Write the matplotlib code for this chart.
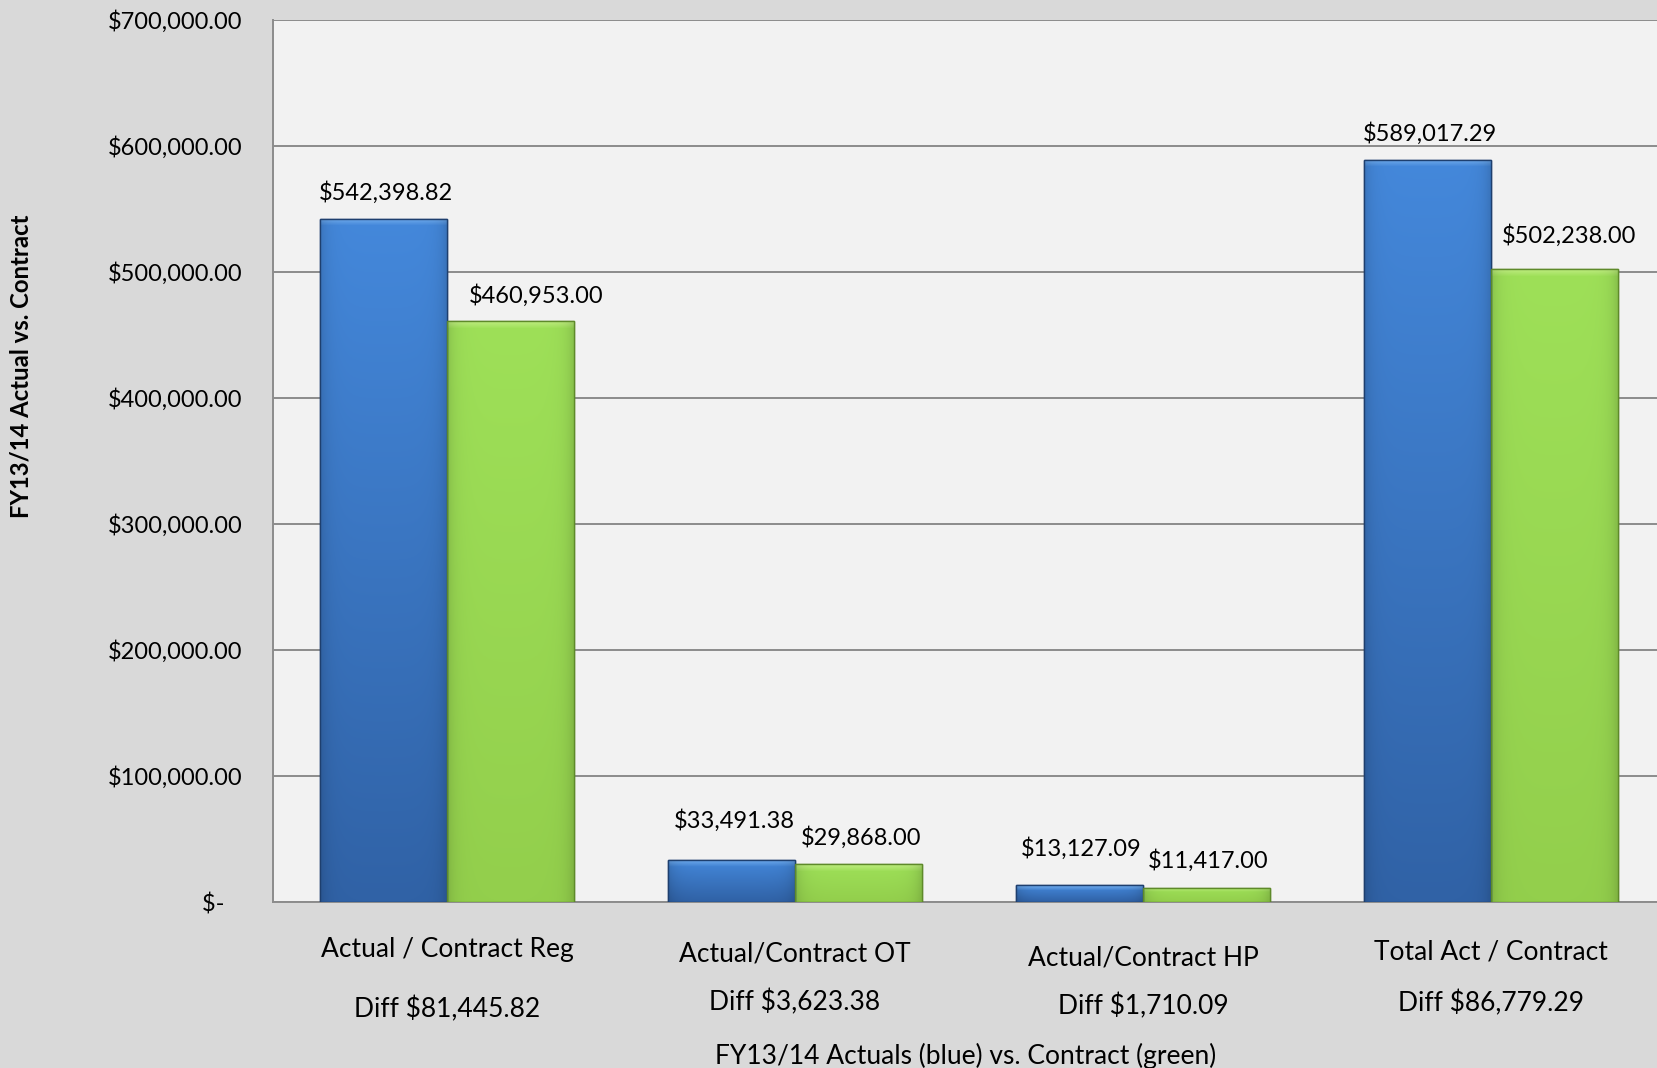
import numpy as np
import matplotlib
matplotlib.use("Agg")
import matplotlib.pyplot as plt
from matplotlib.colors import to_rgb

# ---------------- data ----------------
categories = ["Actual / Contract Reg", "Actual/Contract OT", "Actual/Contract HP", "Total Act / Contract"]
actuals = [542398.82, 33491.38, 13127.09, 589017.29]
contract = [460953.00, 29868.00, 11417.00, 502238.00]
y_ticks = [0, 100000, 200000, 300000, 400000, 500000, 600000, 700000]
y_label = "FY13/14 Actual vs. Contract"
x_label = "FY13/14 Actuals (blue) vs. Contract (green)"

# ---------------- layout (label placement, pixels) ----------------
blue_lbl_dx = [2, 3, 2, 2]
blue_lbl_dy = [26, 39, 37, 26]
green_lbl_dx = [26, 3, 2, 15]
green_lbl_dy = [26, 27, 27, 34]
cat_dy = [-47, -52, -56, -50]
diff_dy = [-107, -100, -104, -101]

# ---------------- style ----------------
plt.rcParams['font.family'] = ['Lato', 'DejaVu Sans']
FS_NUM = 17
FS_TXT = 19
W, H, DPI = 1657, 1068, 100
fig = plt.figure(figsize=(W / DPI, H / DPI), dpi=DPI, facecolor="#D9D9D9")
ax = fig.add_axes([273 / W, 166 / H, 1392 / W, 882 / H])
ax.set_facecolor("#F2F2F2")

x = np.arange(len(categories))
bw = 1 / 2.75
blue_bars = ax.bar(x - bw / 2, actuals, bw, color="#3C7BD0", edgecolor="#1E3F6E", linewidth=1.0, zorder=3)
green_bars = ax.bar(x + bw / 2, contract, bw, color="#9ADC52", edgecolor="#5E8A2A", linewidth=1.0, zorder=3)

ax.set_xlim(-0.5, len(categories) - 0.5)
ax.set_ylim(0, 700000)


def gradient_fill(bars, top, bottom, hilite):
    top, bottom, hilite = map(np.array, map(to_rgb, (top, bottom, hilite)))
    for p in bars:
        bx, by = p.get_x(), p.get_y()
        bwid, bh = p.get_width(), p.get_height()
        npx = max(int(round(bh / 700000 * 882)), 2)
        t = np.linspace(0, 1, npx)[:, None]
        col = top * (1 - t) + bottom * t
        nb = min(7, max(npx // 3, 1))
        for i in range(nb):
            a = 0.75 * (1 - i / nb)
            col[i] = hilite * a + col[i] * (1 - a)
        ncol = 40
        s = np.linspace(0, 1, ncol)
        side = 1 - 0.12 * (np.exp(-s / 0.06) + np.exp(-(1 - s) / 0.06))
        img = np.clip(col[:, None, :] * side[None, :, None], 0, 1)
        im = ax.imshow(img, extent=[bx, bx + bwid, by, by + bh], origin="upper",
                       aspect="auto", zorder=3.5, interpolation="bilinear")
        im.set_clip_path(p)
        ax.add_patch(plt.Rectangle((bx, by), bwid, bh, fill=False,
                                   edgecolor=p.get_edgecolor(), linewidth=1.0, zorder=4))


gradient_fill(blue_bars, "#4488DB", "#3062A6", "#80B8F2")
gradient_fill(green_bars, "#9EE058", "#93CF4C", "#C8F08C")
ax.set_xlim(-0.5, len(categories) - 0.5)
ax.set_ylim(0, 700000)


def money(v):
    return "${:,.2f}".format(v)


for xs, vals, dxs, dys in ((x - bw / 2, actuals, blue_lbl_dx, blue_lbl_dy),
                           (x + bw / 2, contract, green_lbl_dx, green_lbl_dy)):
    for xi, v, dx, dy in zip(xs, vals, dxs, dys):
        ax.annotate(money(v), (xi, v), xytext=(dx, dy), textcoords="offset pixels",
                    ha="center", va="center", fontsize=FS_NUM, color="#000000", zorder=5)

# y axis
ax.set_yticks(y_ticks)
ax.set_yticklabels(["$-   " if v == 0 else money(v) for v in y_ticks])
ax.tick_params(axis="y", length=0, pad=22, labelsize=FS_NUM)
ax.yaxis.grid(True, color="#8C8C8C", linewidth=1.4, zorder=1)
ax.set_axisbelow(True)
ax.set_xticks([])
for s in ("top", "right"):
    ax.spines[s].set_visible(False)
for s in ("left", "bottom"):
    ax.spines[s].set_color("#8C8C8C")
    ax.spines[s].set_linewidth(1.4)

# category labels with differences
for xi, cat, a, c, d1, d2 in zip(x, categories, actuals, contract, cat_dy, diff_dy):
    ax.annotate(cat, (xi, 0), xytext=(0, d1), textcoords="offset pixels",
                ha="center", va="center", fontsize=FS_TXT, annotation_clip=False)
    ax.annotate("Diff " + money(a - c), (xi, 0), xytext=(0, d2), textcoords="offset pixels",
                ha="center", va="center", fontsize=FS_TXT, annotation_clip=False)

fig.text(966 / W, 1 - 1056 / H, x_label, ha="center", va="center", fontsize=FS_TXT)
fig.text(21 / W, 1 - 366 / H, y_label, ha="center", va="center", rotation=90,
         fontsize=17.2, fontweight="bold")

fig.savefig("out.png", dpi=DPI, facecolor=fig.get_facecolor())
